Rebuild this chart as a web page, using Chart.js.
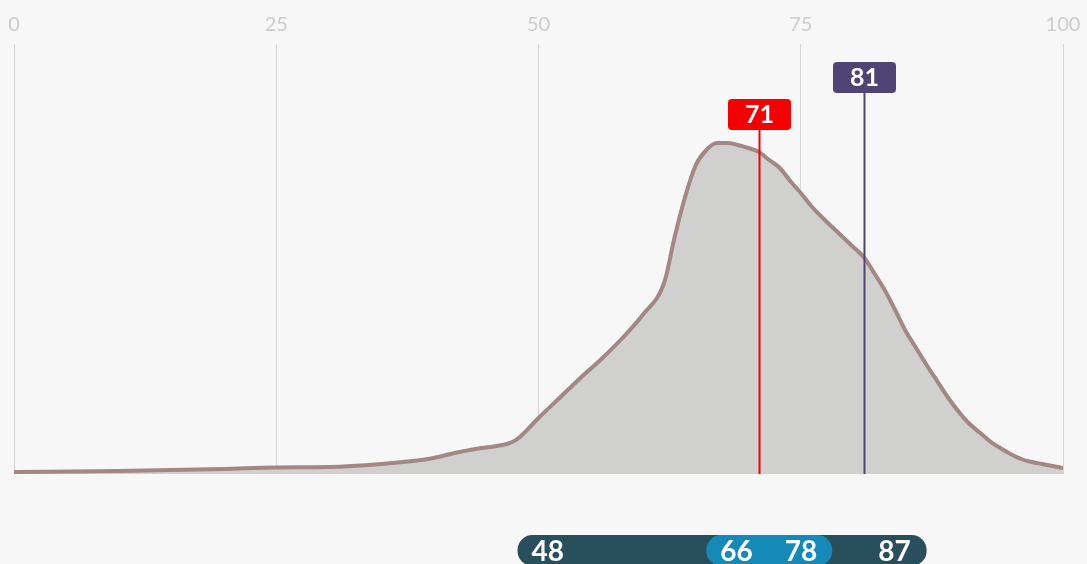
<!DOCTYPE html>
<html>
<head>
<meta charset="utf-8">
<script src="https://cdn.jsdelivr.net/npm/chart.js@4/dist/chart.umd.min.js"></script>
<style>
  html, body { margin: 0; padding: 0; background: #f7f7f7; }
  #wrap { width: 1087px; height: 564px; position: relative; }
</style>
</head>
<body>
<div id="wrap"><canvas id="chart"></canvas></div>
<script>
// score distribution (x = score, y = curve height)
const scores = [0, 10, 20, 25, 30, 35, 38, 40, 42, 44, 46, 47, 48, 50, 52, 54, 56, 58, 60, 62, 63, 64, 65, 66, 67, 68, 69, 70,
  71, 72, 73, 74, 75, 76, 77, 78, 79, 80, 81, 82, 83, 84, 85, 86, 87, 88, 89, 90, 91, 92, 93, 94, 95, 96, 97, 98, 99, 100];
const density = [2, 3, 5, 6.5, 7, 10, 13, 16, 21, 25, 28, 30, 35, 56, 76, 96, 115, 136, 160, 192, 238, 278, 309, 324, 331, 331, 329, 326,
  322, 314, 306, 293, 281, 268, 257, 247, 237, 227, 217, 201, 184, 164, 143, 126, 109, 93, 77, 63, 51, 42, 33, 26, 20, 15, 12, 10, 8, 6];
const xTicks = [0, 25, 50, 75, 100];

const markerValues = [71, 81];
const markerColors = ["#f40000", "#4f4474"];
const markerTops = [99, 62];

const outerRange = [48, 87];
const innerRange = [66, 78];

function roundRect(ctx, x, y, w, h, r) {
  ctx.beginPath();
  ctx.moveTo(x + r, y);
  ctx.lineTo(x + w - r, y);
  ctx.arcTo(x + w, y, x + w, y + r, r);
  ctx.lineTo(x + w, y + h - r);
  ctx.arcTo(x + w, y + h, x + w - r, y + h, r);
  ctx.lineTo(x + r, y + h);
  ctx.arcTo(x, y + h, x, y + h - r, r);
  ctx.lineTo(x, y + r);
  ctx.arcTo(x, y, x + r, y, r);
  ctx.closePath();
}

const markerPlugin = {
  id: "markers",
  afterDatasetsDraw(chart) {
    const ctx = chart.ctx;
    const xs = chart.scales.x;
    const bottom = chart.chartArea.bottom;
    ctx.save();
    markerValues.forEach((v, i) => {
      const px = Math.round(xs.getPixelForValue(v)) + 0.5;
      const top = markerTops[i];
      ctx.strokeStyle = markerColors[i];
      ctx.lineWidth = 2;
      ctx.beginPath();
      ctx.moveTo(px, top + 30);
      ctx.lineTo(px, bottom);
      ctx.stroke();
      ctx.fillStyle = markerColors[i];
      roundRect(ctx, px - 31.5, top, 63, 31, 4);
      ctx.fill();
      ctx.fillStyle = "#fff";
      ctx.font = "bold 25px Lato";
      ctx.textAlign = "center";
      ctx.textBaseline = "middle";
      ctx.fillText(String(v), px, top + 16);
    });
    ctx.restore();
  }
};

const rangePlugin = {
  id: "rangeBar",
  afterDraw(chart) {
    const ctx = chart.ctx;
    const xs = chart.scales.x;
    const y = 535, h = 31, r = 15;
    ctx.save();
    const o0 = xs.getPixelForValue(outerRange[0]);
    const o1 = xs.getPixelForValue(outerRange[1]);
    ctx.fillStyle = "#2a4f5c";
    roundRect(ctx, o0, y, o1 - o0, h, r);
    ctx.fill();
    const i0 = xs.getPixelForValue(innerRange[0]);
    const i1 = xs.getPixelForValue(innerRange[1]);
    ctx.fillStyle = "#158ab9";
    roundRect(ctx, i0, y, i1 - i0, h, r);
    ctx.fill();
    ctx.fillStyle = "#fff";
    ctx.font = "bold 28px Lato";
    ctx.textBaseline = "alphabetic";
    ctx.textAlign = "left";
    ctx.fillText(String(outerRange[0]), o0 + 14, y + 26);
    ctx.fillText(String(innerRange[0]), i0 + 14, y + 26);
    ctx.textAlign = "right";
    ctx.fillText(String(innerRange[1]), i1 - 15, y + 26);
    ctx.fillText(String(outerRange[1]), o1 - 16, y + 26);
    ctx.restore();
  }
};

new Chart(document.getElementById("chart"), {
  type: "line",
  data: {
    datasets: [{
      data: scores.map((s, i) => ({ x: s, y: density[i] })),
      borderColor: "#a38783",
      backgroundColor: "#d0d0ce",
      borderWidth: 4,
      borderCapStyle: "round",
      fill: "origin",
      pointRadius: 0,
      cubicInterpolationMode: "monotone"
    }]
  },
  options: {
    responsive: true,
    maintainAspectRatio: false,
    animation: false,
    events: [],
    layout: { padding: { left: 14, right: 24, top: 6, bottom: 90 } },
    plugins: { legend: { display: false }, tooltip: { enabled: false } },
    scales: {
      x: {
        type: "linear",
        position: "top",
        min: 0,
        max: 100,
        afterBuildTicks: scale => { scale.ticks = xTicks.map(v => ({ value: v })); },
        afterFit: scale => { scale.paddingLeft = 0; scale.paddingRight = 0; },
        ticks: { color: "#cccccc", font: { family: "Lato", size: 20 }, padding: 7, maxRotation: 0 },
        grid: { color: "#d6d6d6", lineWidth: 1, drawTicks: false },
        border: { display: false }
      },
      y: {
        display: false,
        min: 0,
        max: 430
      }
    }
  },
  plugins: [markerPlugin, rangePlugin]
});
</script>
</body>
</html>
